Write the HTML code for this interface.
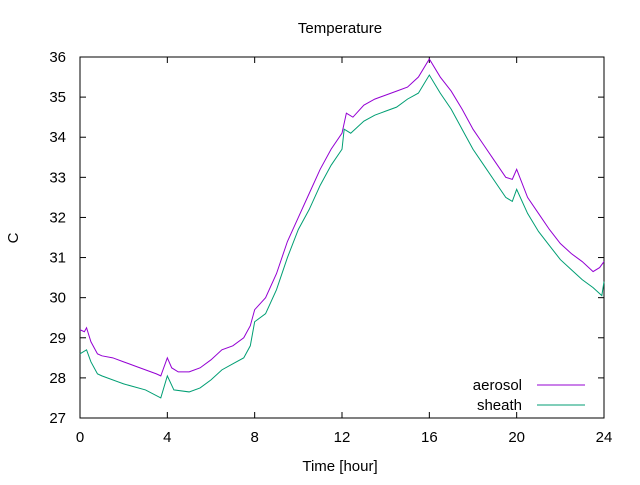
<!DOCTYPE html>
<html><head><meta charset="utf-8"><style>
body{margin:0;background:#fff}
svg{font-family:"Liberation Sans",sans-serif;font-size:15px}
</style></head><body>
<svg id="chart" width="640" height="480">
<rect width="640" height="480" fill="#fff"/>
<text x="340" y="33" text-anchor="middle">Temperature</text>
<text x="18" y="238" text-anchor="middle" transform="rotate(-90 18 238)">C</text>
<text x="340" y="471" text-anchor="middle">Time [hour]</text>
<g id="axes"></g>
<g id="series"></g>
<g id="legend"></g>
</svg>
<script>
const xTicks=[0,4,8,12,16,20,24];
const yTicks=[27,28,29,30,31,32,33,34,35,36];
const aerosolX=[0,0.2,0.3,0.5,0.8,1,1.5,2,2.5,3,3.5,3.7,4,4.2,4.5,5,5.5,6,6.5,7,7.5,7.8,8,8.5,9,9.5,10,10.5,11,11.5,12,12.2,12.5,13,13.5,14,14.5,15,15.5,16,16.5,17,17.5,18,18.5,19,19.5,19.8,20,20.5,21,21.5,22,22.5,23,23.5,23.8,24];
const aerosolY=[29.2,29.15,29.25,28.9,28.6,28.55,28.5,28.4,28.3,28.2,28.1,28.05,28.5,28.25,28.15,28.15,28.25,28.45,28.7,28.8,29.0,29.3,29.7,30.0,30.6,31.4,32.0,32.6,33.2,33.7,34.1,34.6,34.5,34.8,34.95,35.05,35.15,35.25,35.5,35.95,35.5,35.15,34.7,34.2,33.8,33.4,33.0,32.95,33.2,32.5,32.1,31.7,31.35,31.1,30.9,30.65,30.75,30.9];
const sheathX=[0,0.3,0.5,0.8,1,2,3,3.7,4,4.3,5,5.5,6,6.5,7,7.5,7.8,8,8.5,9,9.5,10,10.5,11,11.5,12,12.1,12.4,13,13.5,14,14.5,15,15.5,16,16.5,17,17.5,18,18.5,19,19.5,19.8,20,20.5,21,21.5,22,22.5,23,23.5,23.9,24];
const sheathY=[28.6,28.7,28.4,28.1,28.05,27.85,27.7,27.5,28.05,27.7,27.65,27.75,27.95,28.2,28.35,28.5,28.8,29.4,29.6,30.2,31.0,31.7,32.2,32.8,33.3,33.7,34.2,34.1,34.4,34.55,34.65,34.75,34.95,35.1,35.55,35.1,34.7,34.2,33.7,33.3,32.9,32.5,32.4,32.7,32.1,31.65,31.3,30.95,30.7,30.45,30.25,30.05,30.4];
const X0=80,X1=604,Y0=418,Y1=57;
const sx=v=>X0+(v-0)/24*(X1-X0);
const sy=v=>Y0-(v-27)/9*(Y0-Y1);
const NS="http://www.w3.org/2000/svg";
function mk(tag,attrs,parent){const e=document.createElementNS(NS,tag);for(const k in attrs)e.setAttribute(k,attrs[k]);parent.appendChild(e);return e;}
const axes=document.getElementById('axes');
const frame=mk('rect',{x:X0,y:Y1,width:X1-X0,height:Y0-Y1,fill:'none',stroke:'#000','stroke-width':1},axes);


xTicks.forEach(t=>{
  const x=sx(t);
  mk('line',{x1:x,y1:Y0,x2:x,y2:Y0-6,stroke:'#000'},axes);
  mk('line',{x1:x,y1:Y1,x2:x,y2:Y1+6,stroke:'#000'},axes);
  const l=mk('text',{x:x,y:Y0+24,'text-anchor':'middle'},axes);l.textContent=t;
  
  
});
yTicks.forEach(t=>{
  const y=sy(t);
  mk('line',{x1:X0,y1:y,x2:X0+6,y2:y,stroke:'#000'},axes);
  mk('line',{x1:X1,y1:y,x2:X1-6,y2:y,stroke:'#000'},axes);
  const l=mk('text',{x:X0-14,y:y+5,'text-anchor':'end'},axes);l.textContent=t;
  
  
});
const ser=document.getElementById('series');
function line(xs,ys,color,name){
  const p=mk('polyline',{points:xs.map((x,i)=>sx(x)+','+sy(ys[i])).join(' '),fill:'none',stroke:color,'stroke-width':1},ser);
  
  
}
line(aerosolX,aerosolY,'#9400d3','aerosol-line');
line(sheathX,sheathY,'#009e73','sheath-line');
const lg=document.getElementById('legend');
[['aerosol','#9400d3',385],['sheath','#009e73',405]].forEach(([n,c,y])=>{
  const g=mk('g',{},lg);
  
  
  const t=mk('text',{x:522,y:y+5,'text-anchor':'end'},g);t.textContent=n;
  mk('line',{x1:537,y1:y,x2:585,y2:y,stroke:c},g);
});
</script>
</body></html>
